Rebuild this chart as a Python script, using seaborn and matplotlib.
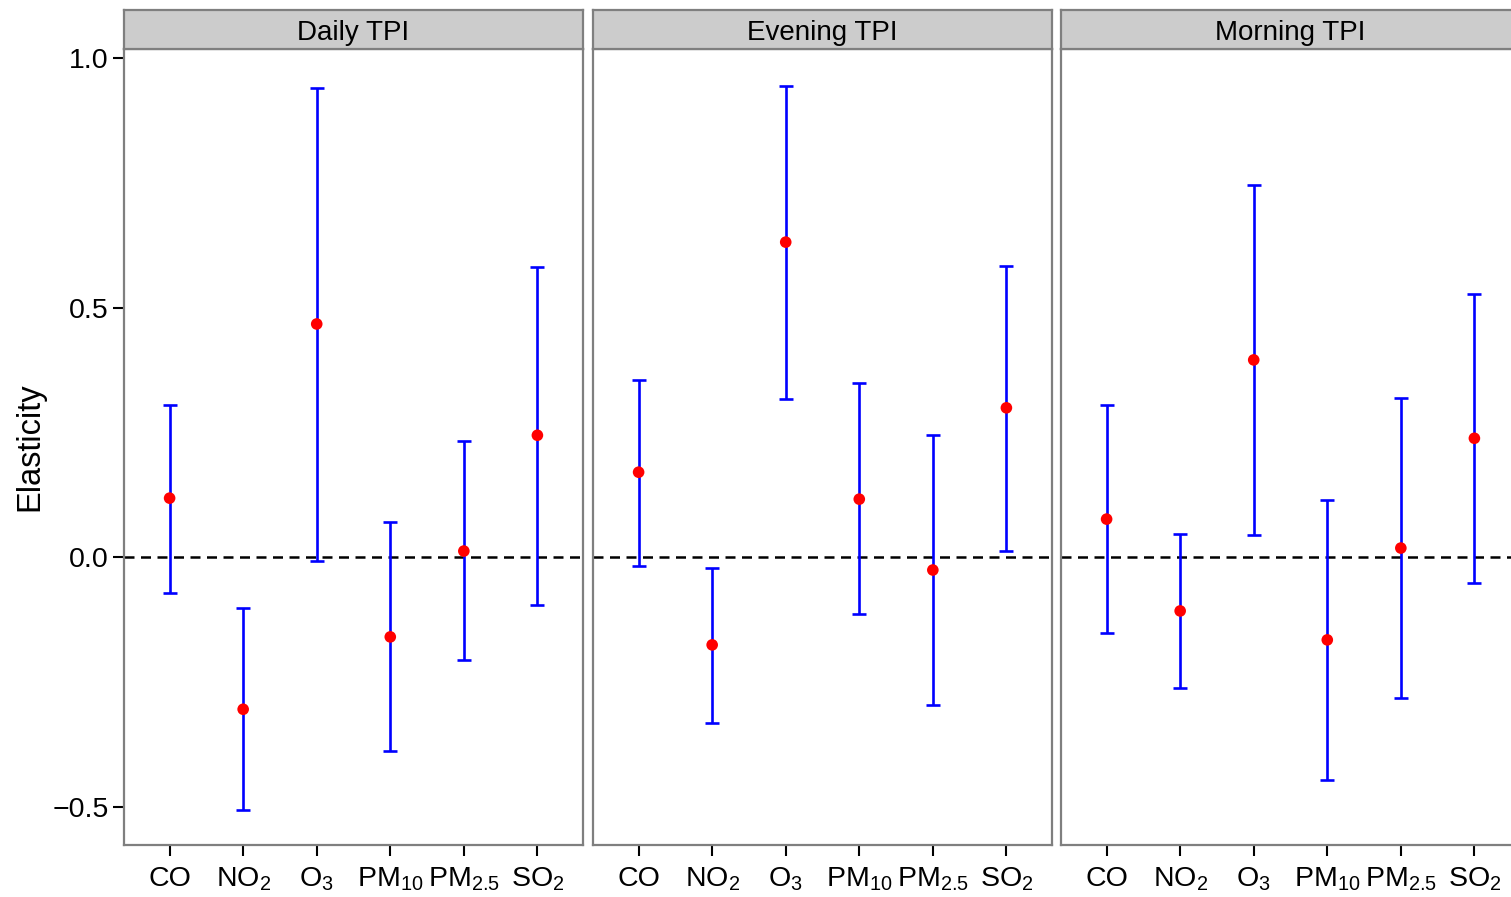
import numpy as np
import pandas as pd
import matplotlib
matplotlib.use("Agg")
import matplotlib.pyplot as plt
import seaborn as sns

# ---- data ----
panels = ["Daily TPI", "Evening TPI", "Morning TPI"]
pollutants = ["CO", "NO2", "O3", "PM10", "PM2.5", "SO2"]
tick_labels = ["CO", r"NO$_{2}$", r"O$_{3}$", r"PM$_{10}$", r"PM$_{2.5}$", r"SO$_{2}$"]

daily_est = [0.118, -0.305, 0.467, -0.160, 0.012, 0.244]
daily_lo = [-0.072, -0.507, -0.008, -0.389, -0.206, -0.096]
daily_hi = [0.305, -0.102, 0.940, 0.070, 0.232, 0.581]

evening_est = [0.170, -0.176, 0.631, 0.116, -0.026, 0.299]
evening_lo = [-0.018, -0.333, 0.317, -0.114, -0.297, 0.012]
evening_hi = [0.355, -0.022, 0.944, 0.349, 0.244, 0.583]

morning_est = [0.076, -0.108, 0.395, -0.166, 0.018, 0.238]
morning_lo = [-0.152, -0.263, 0.044, -0.447, -0.283, -0.052]
morning_hi = [0.305, 0.046, 0.745, 0.114, 0.319, 0.527]

yticks = [-0.5, 0.0, 0.5, 1.0]
ytick_labels = ["\u22120.5", "0.0", "0.5", "1.0"]

frames = []
for name, est, lo, hi in zip(panels,
                             [daily_est, evening_est, morning_est],
                             [daily_lo, evening_lo, morning_lo],
                             [daily_hi, evening_hi, morning_hi]):
    frames.append(pd.DataFrame({"panel": name, "pollutant": pollutants,
                                "est": est, "lo": lo, "hi": hi}))
df = pd.concat(frames, ignore_index=True)
df["x"] = df["pollutant"].map({p: i for i, p in enumerate(pollutants)})

# ---- style ----
sns.set_theme(style="white")
plt.rcParams["font.family"] = ["Liberation Sans", "DejaVu Sans"]
plt.rcParams["mathtext.fontset"] = "custom"
plt.rcParams["mathtext.rm"] = "Liberation Sans"
plt.rcParams["mathtext.it"] = "Liberation Sans"
plt.rcParams["mathtext.default"] = "regular"

W, H = 1511, 897
fig = plt.figure(figsize=(W / 100, H / 100), dpi=100)

panel_left_px = [124, 593, 1061]
panel_w_px = 459
panel_top_px = 49
panel_bot_px = 845
strip_top_px = 10

border = "#7f7f7f"
fs = 20.5

for i, (name, left) in enumerate(zip(panels, panel_left_px)):
    ax = fig.add_axes([left / W, 1 - panel_bot_px / H,
                       panel_w_px / W, (panel_bot_px - panel_top_px) / H])
    sub = df[df["panel"] == name]
    ax.axhline(0, color="black", lw=1.8, ls=(0, (4, 2.6)), zorder=1)
    ax.errorbar(sub["x"], sub["est"],
                yerr=[sub["est"] - sub["lo"], sub["hi"] - sub["est"]],
                fmt="none", ecolor="#0000ff", elinewidth=1.9,
                capsize=5.2, capthick=1.9, zorder=2)
    sns.scatterplot(data=sub, x="x", y="est", ax=ax, color="#ff0000",
                    s=70, edgecolor="none", zorder=3, legend=False)
    ax.set_xlim(-0.62, 5.62)
    ax.set_ylim(-0.577, 1.018)
    ax.set_xticks(range(len(pollutants)))
    ax.set_xticklabels(tick_labels, fontsize=fs, color="black")
    ax.set_xlabel("")
    for sp in ax.spines.values():
        sp.set_color(border)
        sp.set_linewidth(1.6)
    ax.tick_params(axis="x", direction="out", length=8, width=1.5,
                   color="black", pad=7, bottom=True)
    if i == 0:
        ax.set_yticks(yticks)
        ax.set_yticklabels(ytick_labels, fontsize=fs, color="black")
        ax.tick_params(axis="y", direction="out", length=8, width=1.5,
                       color="black", pad=3, left=True)
        ax.set_ylabel("Elasticity", fontsize=23.5, color="black", labelpad=5)
    else:
        ax.set_yticks([])
        ax.set_ylabel("")
    # strip
    sax = fig.add_axes([left / W, 1 - panel_top_px / H,
                        panel_w_px / W, (panel_top_px - strip_top_px) / H])
    sax.set_facecolor("#cccccc")
    sax.set_xticks([])
    sax.set_yticks([])
    for sp in sax.spines.values():
        sp.set_color(border)
        sp.set_linewidth(1.6)
    sax.text(0.5, 0.42, name, ha="center", va="center", fontsize=20,
             color="black", transform=sax.transAxes)

fig.savefig("out.png", dpi=100)
